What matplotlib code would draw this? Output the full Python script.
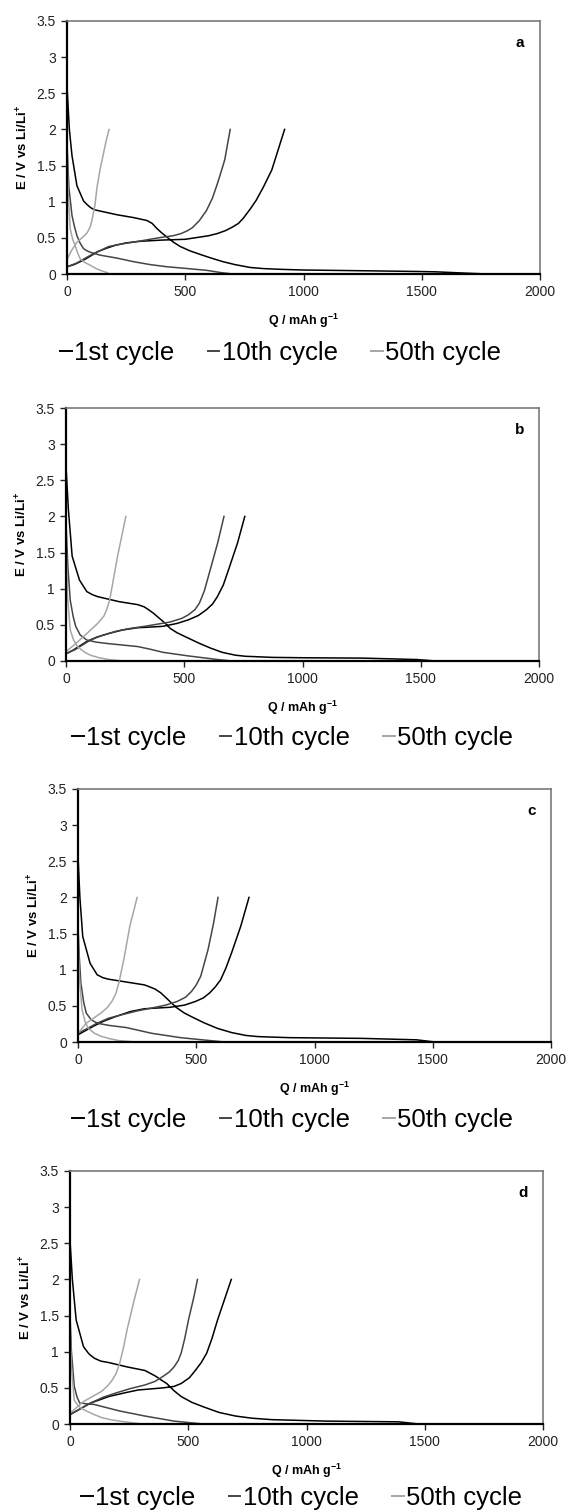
import numpy as np
import matplotlib
matplotlib.use("Agg")
import matplotlib.pyplot as plt
from matplotlib.lines import Line2D

plt.rcParams['font.family'] = ['Liberation Sans', 'DejaVu Sans']
plt.rcParams['mathtext.fontset'] = 'custom'
plt.rcParams['mathtext.rm'] = 'Liberation Sans'
plt.rcParams['mathtext.bf'] = 'Liberation Sans:bold'

nan = np.nan

# ----------------------------
# DATA  (discharge, nan, charge)
# ----------------------------
# panel a
a_q1 = [0, 10, 21, 42, 70, 85, 99, 115, 141, 211, 282, 338, 360, 380, 400, 423, 450, 479, 520, 564, 610, 660, 710, 775, 830, 900, 1000, 1250, 1480, 1560, 1700, 1780,
        nan, 0, 30, 69, 100, 130, 170, 207, 250, 299, 350, 406, 500, 560, 600, 636, 670, 700, 725, 745, 775, 800, 830, 866, 920]
a_e1 = [2.6, 2.0, 1.64, 1.22, 1.01, 0.96, 0.92, 0.89, 0.87, 0.82, 0.78, 0.74, 0.70, 0.63, 0.57, 0.51, 0.44, 0.38, 0.32, 0.27, 0.22, 0.17, 0.13, 0.09, 0.075, 0.065, 0.055, 0.045, 0.035, 0.03, 0.01, 0.0,
        nan, 0.1, 0.13, 0.19, 0.25, 0.31, 0.36, 0.40, 0.43, 0.45, 0.46, 0.47, 0.48, 0.51, 0.53, 0.56, 0.60, 0.65, 0.70, 0.77, 0.90, 1.02, 1.2, 1.44, 2.0]
a_q10 = [0, 8, 21, 32, 42, 55, 70, 85, 99, 141, 211, 282, 352, 423, 493, 592, 650, 700,
         nan, 0, 40, 100, 176, 240, 299, 350, 406, 450, 483, 510, 530, 560, 590, 615, 636, 655, 667, 690]
a_e10 = [1.8, 1.2, 0.81, 0.65, 0.53, 0.43, 0.35, 0.32, 0.30, 0.26, 0.22, 0.17, 0.13, 0.10, 0.08, 0.05, 0.02, 0.0,
         nan, 0.1, 0.15, 0.26, 0.38, 0.42, 0.45, 0.48, 0.51, 0.53, 0.56, 0.60, 0.64, 0.74, 0.88, 1.05, 1.25, 1.45, 1.58, 2.0]
a_q50 = [0, 5, 14, 24, 35, 45, 56, 75, 99, 120, 141, 169, 178,
         nan, 0, 20, 42, 70, 85, 98, 106, 118, 127, 140, 155, 166, 178]
a_e50 = [1.7, 1.1, 0.62, 0.48, 0.39, 0.29, 0.21, 0.16, 0.12, 0.08, 0.05, 0.02, 0.0,
         nan, 0.2, 0.33, 0.44, 0.52, 0.57, 0.65, 0.75, 0.95, 1.2, 1.45, 1.68, 1.85, 2.0]

# panel b
b_q1 = [0, 10, 26, 57, 88, 110, 134, 226, 303, 330, 349, 370, 395, 420, 441, 470, 502, 560, 610, 660, 717, 760, 800, 871, 1000, 1255, 1485, 1562,
        nan, 0, 30, 88, 130, 180, 240, 303, 360, 410, 470, 518, 560, 594, 620, 640, 665, 687, 725, 756]
b_e1 = [2.69, 2.1, 1.45, 1.12, 0.96, 0.92, 0.89, 0.82, 0.78, 0.75, 0.71, 0.66, 0.59, 0.52, 0.45, 0.39, 0.34, 0.25, 0.18, 0.12, 0.08, 0.065, 0.06, 0.05, 0.045, 0.04, 0.02, 0.0,
         nan, 0.1, 0.15, 0.27, 0.33, 0.38, 0.43, 0.46, 0.47, 0.48, 0.52, 0.57, 0.63, 0.71, 0.79, 0.89, 1.05, 1.26, 1.63, 2.0]
b_q10 = [0, 8, 18, 30, 41, 60, 88, 130, 180, 303, 360, 410, 518, 641, 702,
         nan, 0, 40, 103, 150, 210, 270, 333, 441, 490, 518, 545, 564, 585, 602, 641, 668]
b_e10 = [1.9, 1.3, 0.84, 0.62, 0.48, 0.36, 0.29, 0.26, 0.24, 0.20, 0.16, 0.12, 0.07, 0.02, 0.0,
         nan, 0.1, 0.16, 0.29, 0.35, 0.41, 0.45, 0.48, 0.54, 0.59, 0.64, 0.71, 0.80, 0.97, 1.17, 1.63, 2.0]
b_q50 = [0, 6, 18, 32, 49, 75, 103, 140, 180, 241,
         nan, 0, 41, 88, 134, 160, 172, 185, 195, 218, 241, 253]
b_e50 = [1.7, 0.9, 0.43, 0.29, 0.20, 0.13, 0.08, 0.045, 0.02, 0.0,
         nan, 0.13, 0.24, 0.38, 0.52, 0.62, 0.71, 0.85, 1.03, 1.45, 1.81, 2.0]

# panel c
c_q1 = [0, 8, 20, 51, 81, 105, 127, 204, 281, 305, 327, 350, 373, 395, 419, 450, 480, 530, 588, 650, 711, 760, 800, 895, 1202, 1432, 1509,
        nan, 0, 66, 110, 158, 220, 281, 388, 450, 496, 530, 557, 580, 603, 625, 649, 688, 723]
c_e1 = [2.57, 2.0, 1.46, 1.09, 0.93, 0.89, 0.87, 0.83, 0.79, 0.76, 0.73, 0.68, 0.61, 0.54, 0.47, 0.40, 0.35, 0.27, 0.19, 0.13, 0.09, 0.075, 0.07, 0.06, 0.05, 0.03, 0.0,
        nan, 0.1, 0.22, 0.29, 0.35, 0.42, 0.46, 0.48, 0.51, 0.56, 0.61, 0.68, 0.76, 0.86, 1.02, 1.23, 1.60, 2.0]
c_q10 = [0, 5, 12, 24, 35, 55, 81, 130, 204, 312, 434, 557, 619,
         nan, 0, 81, 130, 189, 250, 312, 370, 419, 455, 480, 500, 519, 550, 573, 592]
c_e10 = [1.6, 1.2, 0.82, 0.55, 0.40, 0.31, 0.26, 0.23, 0.20, 0.12, 0.06, 0.02, 0.0,
         nan, 0.12, 0.26, 0.33, 0.38, 0.43, 0.47, 0.51, 0.56, 0.62, 0.70, 0.79, 0.91, 1.28, 1.64, 2.0]
c_q50 = [0, 6, 17, 30, 43, 70, 97, 135, 173, 243,
         nan, 0, 35, 97, 125, 143, 160, 173, 196, 219, 250]
c_e50 = [1.46, 0.9, 0.45, 0.28, 0.19, 0.12, 0.08, 0.045, 0.02, 0.0,
         nan, 0.12, 0.26, 0.40, 0.48, 0.56, 0.67, 0.82, 1.18, 1.60, 2.0]

# panel d
d_q1 = [0, 10, 26, 57, 80, 103, 130, 164, 241, 317, 340, 363, 385, 409, 440, 470, 515, 562, 630, 700, 770, 854, 1083, 1390, 1474,
        nan, 0, 87, 164, 230, 287, 394, 440, 470, 505, 532, 555, 578, 600, 624, 682]
d_e1 = [2.54, 2.0, 1.44, 1.07, 0.97, 0.91, 0.87, 0.85, 0.79, 0.74, 0.70, 0.66, 0.61, 0.56, 0.46, 0.38, 0.30, 0.24, 0.16, 0.11, 0.08, 0.06, 0.04, 0.03, 0.0,
        nan, 0.13, 0.29, 0.38, 0.43, 0.47, 0.50, 0.52, 0.56, 0.64, 0.75, 0.85, 0.98, 1.18, 1.44, 2.0]
d_q10 = [0, 6, 18, 30, 41, 70, 103, 150, 210, 317, 440, 562,
         nan, 0, 87, 140, 195, 255, 317, 360, 394, 420, 440, 458, 470, 485, 501, 524, 539]
d_e10 = [1.5, 1.0, 0.52, 0.37, 0.29, 0.28, 0.27, 0.23, 0.18, 0.11, 0.04, 0.0,
         nan, 0.13, 0.29, 0.37, 0.43, 0.49, 0.54, 0.59, 0.66, 0.72, 0.79, 0.88, 0.98, 1.18, 1.44, 1.76, 2.0]
d_q50 = [0, 6, 18, 35, 57, 95, 133, 170, 210, 302,
         nan, 0, 57, 100, 133, 160, 179, 195, 210, 225, 241, 271, 294]
d_e50 = [1.34, 0.8, 0.33, 0.25, 0.20, 0.14, 0.09, 0.06, 0.04, 0.0,
         nan, 0.15, 0.31, 0.39, 0.45, 0.53, 0.61, 0.70, 0.84, 1.04, 1.30, 1.71, 2.0]

cycle_labels = ['1st cycle', '10th cycle', '50th cycle']
cycle_colors = ['#000000', '#454545', '#a6a6a6']
panel_letters = ['a', 'b', 'c', 'd']
x_ticks = [0, 500, 1000, 1500, 2000]
y_ticks = [0, 0.5, 1, 1.5, 2, 2.5, 3, 3.5]

panels = [
    [(a_q1, a_e1), (a_q10, a_e10), (a_q50, a_e50)],
    [(b_q1, b_e1), (b_q10, b_e10), (b_q50, b_e50)],
    [(c_q1, c_e1), (c_q10, c_e10), (c_q50, c_e50)],
    [(d_q1, d_e1), (d_q10, d_e10), (d_q50, d_e50)],
]

# ----------------------------
# LAYOUT (pixels of a 568x1510 image)
# ----------------------------
W, H = 568, 1510
axes_px = [(67, 274), (66, 661), (78, 1042), (70, 1424)]   # left, bottom
ax_w, ax_h = 473, 253
legend_px = [(60, 353), (72, 738), (72, 1120), (81, 1498)]

fig = plt.figure(figsize=(W / 100, H / 100), dpi=100)

for i, series in enumerate(panels):
    left, bottom = axes_px[i]
    ax = fig.add_axes([left / W, 1 - bottom / H, ax_w / W, ax_h / H])
    for (q, e), col in zip(series, cycle_colors):
        ax.plot(q, e, color=col, lw=1.1)

    ax.set_xlim(0, 2000)
    ax.set_ylim(0, 3.5)
    ax.set_xticks(x_ticks)
    ax.set_yticks(y_ticks)
    ax.set_yticklabels(['0', '0.5', '1', '1.5', '2', '2.5', '3', '3.5'])
    ax.tick_params(direction='out', length=4, width=1, colors='#222222',
                   labelsize=10, pad=4)

    for side in ['left', 'bottom']:
        ax.spines[side].set_color('black')
        ax.spines[side].set_linewidth(1.6)
    for side in ['top', 'right']:
        ax.spines[side].set_color('#7a7a7a')
        ax.spines[side].set_linewidth(1.2)

    ax.set_xlabel('Q / mAh g$^{\\mathbf{-1}}$', fontsize=9, fontweight='bold', labelpad=9)
    ax.set_ylabel('E / V vs Li/Li$^{\\mathbf{+}}$', fontsize=9.5, fontweight='bold', labelpad=4)
    ax.text(0.958, 0.915, panel_letters[i], transform=ax.transAxes, fontsize=11,
            fontweight='bold', ha='center', va='center')

    handles = [Line2D([0], [0], color=c, lw=1.4) for c in cycle_colors]
    lx, ly = legend_px[i]
    fig.legend(handles, cycle_labels, loc='center left',
               bbox_to_anchor=(lx / W, 1 - ly / H), bbox_transform=fig.transFigure,
               ncol=3, frameon=False, fontsize=18.5, handlelength=0.45,
               handletextpad=0.1, columnspacing=1.3, borderpad=0, borderaxespad=0)

fig.savefig('out.png', dpi=100)
